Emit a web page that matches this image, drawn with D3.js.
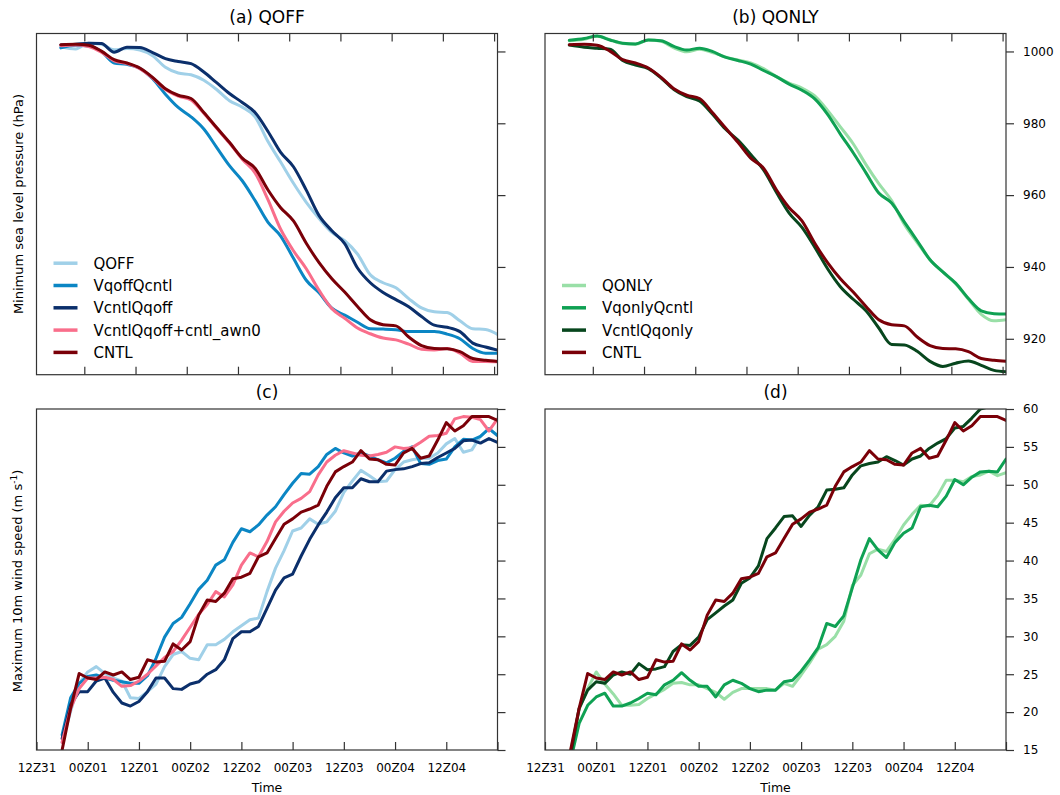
<!DOCTYPE html>
<html><head><meta charset="utf-8">
<script src="https://cdn.jsdelivr.net/npm/d3@7"></script>
<style>
body{margin:0;background:#fff;}
svg{display:block;font-family:"DejaVu Sans",sans-serif;}
</style>
</head><body>
<svg id="chart" width="1060" height="795"></svg>
<script>
// ---------- time axes (hours after 00Z01) ----------
const tickHours = [-12, 0, 12, 24, 36, 48, 60, 72, 84, 96];
const tickLabels = ["12Z31", "00Z01", "12Z01", "00Z02", "12Z02", "00Z03", "12Z03", "00Z04", "12Z04", ""];
const pressTicks = [920, 940, 960, 980, 1000];
const windTicks = [15, 20, 25, 30, 35, 40, 45, 50, 55, 60];

// pressure sample times
const tP = [-5.5, -2, 1, 4, 7, 10, 13, 16, 19, 22, 25, 28, 31, 34, 37, 40, 43, 46, 49, 52, 55, 58, 61, 64, 67, 70, 73, 76, 79, 82, 85, 88, 91, 94, 97];
// wind sample times
const tW = [-6, -4, -2, 0, 2, 4, 6, 8, 10, 12, 14, 16, 18, 20, 22, 24, 26, 28, 30, 32, 34, 36, 38, 40, 42, 44, 46, 48, 50, 52, 54, 56, 58, 60, 62, 64, 66, 68, 70, 72, 74, 76, 78, 80, 82, 84, 86, 88, 90, 92, 94, 96];

// ---------- minimum sea level pressure (hPa) ----------
const pQOFF        = [1001.3, 1000.7, 1002.3, 1002.0, 1000.5, 1000.8, 1000.4, 998.8, 995.6, 994.0, 993.5, 992.0, 989.4, 986.3, 984.5, 981.8, 975.0, 969.2, 963.3, 958.0, 953.5, 949.6, 947.3, 943.6, 937.8, 935.6, 934.2, 931.2, 928.6, 927.5, 927.3, 925.0, 922.8, 922.6, 921.1];
const pVqoffQcntl  = [1001.0, 1001.7, 1001.5, 1000.0, 996.8, 996.4, 995.3, 992.4, 988.1, 984.4, 981.8, 978.4, 973.3, 968.2, 964.0, 958.5, 952.5, 948.6, 942.4, 936.3, 932.8, 928.5, 926.6, 924.6, 922.8, 922.7, 922.5, 922.0, 922.0, 922.0, 921.3, 920.0, 917.3, 916.0, 916.0];
const pVcntlQqoff  = [1001.8, 1002.0, 1002.3, 1002.2, 999.8, 1001.2, 1001.1, 999.7, 998.0, 997.2, 996.6, 994.3, 991.3, 988.3, 985.8, 983.0, 977.8, 971.9, 967.9, 961.4, 954.3, 950.1, 946.5, 939.7, 935.6, 932.9, 930.9, 928.9, 926.2, 923.8, 923.2, 922.0, 918.8, 917.7, 916.8];
const pAwn0        = [1001.6, 1001.8, 1001.4, 999.8, 997.4, 996.6, 995.2, 992.6, 989.4, 987.6, 986.5, 982.8, 978.6, 974.5, 970.0, 966.2, 958.8, 950.5, 944.5, 939.5, 933.5, 928.4, 925.7, 923.0, 921.4, 920.2, 919.7, 918.5, 917.1, 916.9, 917.3, 916.0, 913.7, 913.7, 913.6];
const pCNTL        = [1001.9, 1002.0, 1001.7, 1000.1, 997.7, 996.8, 995.4, 992.8, 989.6, 987.8, 986.9, 983.0, 978.8, 974.7, 970.3, 967.5, 961.5, 956.5, 952.8, 946.6, 941.2, 936.7, 933.0, 929.0, 925.3, 923.9, 923.6, 920.5, 918.1, 917.3, 917.2, 916.4, 914.5, 914.0, 913.7];
const pQONLY       = [1003.0, 1003.4, 1004.2, 1003.3, 1002.2, 1002.0, 1003.2, 1002.8, 1001.0, 999.9, 1000.6, 999.7, 998.5, 997.6, 996.8, 995.2, 993.0, 991.2, 989.8, 987.6, 983.6, 979.0, 974.3, 968.5, 963.2, 958.5, 951.8, 946.8, 942.0, 938.6, 935.3, 931.0, 926.8, 925.0, 925.3];
const pVqonlyQcntl = [1003.1, 1003.6, 1004.3, 1003.2, 1002.3, 1002.1, 1003.2, 1003.0, 1001.4, 1000.4, 1000.9, 1000.0, 998.4, 997.5, 996.5, 994.7, 993.0, 990.9, 989.2, 986.8, 982.5, 977.0, 971.8, 966.2, 960.6, 957.8, 952.5, 947.3, 942.0, 938.6, 935.5, 931.2, 927.8, 927.0, 926.9];
const pVcntlQqonly = [1001.8, 1001.2, 1000.9, 1000.6, 997.5, 996.2, 995.2, 992.6, 989.4, 987.4, 986.2, 982.6, 978.5, 975.3, 971.3, 967.0, 960.8, 955.0, 951.0, 945.5, 939.5, 934.5, 931.0, 927.8, 923.0, 918.4, 918.3, 916.5, 913.7, 912.3, 913.2, 913.8, 912.6, 911.2, 910.8];

// ---------- maximum 10 m wind speed (m/s) ----------
const wQOFF        = [16.0, 20.1, 23.8, 25.3, 26.0, 25.1, 24.5, 24.1, 21.9, 21.8, 22.7, 23.7, 26.0, 27.6, 28.0, 27.1, 26.9, 28.9, 28.9, 29.6, 30.6, 31.4, 32.2, 32.4, 35.9, 39.0, 41.3, 43.9, 44.3, 45.5, 44.8, 45.1, 46.5, 49.0, 50.5, 51.9, 51.2, 50.4, 50.5, 52.0, 53.0, 53.3, 53.5, 53.5, 54.2, 55.4, 56.1, 54.3, 54.6, 56.4, 57.4, 56.5];
const wVqoffQcntl  = [17.0, 21.9, 23.8, 24.7, 24.9, 24.5, 24.2, 24.0, 23.8, 23.8, 24.8, 27.1, 29.9, 31.7, 32.5, 34.3, 36.2, 37.4, 39.4, 40.1, 42.4, 44.2, 43.8, 44.7, 46.0, 47.1, 48.7, 50.2, 51.5, 51.4, 52.4, 54.0, 54.8, 54.2, 53.8, 54.2, 53.8, 53.3, 52.9, 53.5, 54.4, 55.0, 52.8, 52.7, 53.2, 53.4, 55.0, 56.0, 55.9, 56.4, 57.4, 56.5];
const wVcntlQqoff  = [16.5, 21.0, 22.7, 22.7, 24.1, 24.5, 22.6, 21.2, 20.8, 21.4, 22.7, 24.5, 24.5, 23.1, 23.0, 23.7, 24.0, 25.0, 25.6, 26.9, 29.7, 30.6, 30.6, 31.3, 33.7, 36.1, 37.7, 38.2, 40.6, 42.8, 44.7, 46.4, 48.3, 49.6, 49.6, 50.8, 50.4, 50.4, 51.8, 52.0, 52.1, 52.4, 52.8, 52.9, 53.6, 54.2, 54.8, 55.8, 55.9, 55.5, 56.1, 55.6];
const wAwn0        = [16.0, 20.5, 23.1, 24.5, 24.5, 24.6, 24.3, 23.4, 23.5, 24.1, 25.0, 26.1, 27.2, 28.0, 29.5, 31.2, 32.9, 34.2, 35.9, 35.2, 36.8, 39.4, 41.0, 40.5, 42.5, 45.1, 46.5, 47.6, 48.2, 49.1, 51.3, 53.0, 53.9, 54.5, 54.2, 53.9, 53.8, 54.0, 54.3, 55.0, 54.8, 54.9, 55.6, 56.4, 56.5, 56.8, 58.7, 59.0, 58.9, 58.6, 57.1, 58.7];
const wCNTL        = [15.0, 20.5, 25.1, 24.5, 24.3, 25.3, 24.9, 25.3, 24.3, 24.6, 26.9, 26.6, 26.7, 29.0, 28.2, 29.3, 32.8, 34.8, 34.6, 35.7, 37.6, 37.8, 38.3, 40.5, 41.0, 42.9, 44.8, 45.5, 46.4, 46.8, 47.3, 49.8, 51.7, 52.4, 53.0, 54.5, 53.4, 53.3, 52.7, 52.6, 54.2, 54.8, 53.5, 53.8, 55.9, 58.2, 57.1, 57.8, 59.0, 59.0, 59.0, 58.5];
const wQONLY       = [14.8, 20.4, 23.1, 25.3, 23.7, 22.4, 20.9, 20.9, 21.0, 21.8, 22.4, 23.0, 23.8, 23.9, 23.6, 23.6, 23.1, 22.6, 21.7, 22.6, 23.1, 23.1, 23.1, 23.1, 22.9, 23.8, 23.4, 24.9, 26.5, 28.3, 28.9, 30.0, 32.0, 36.7, 38.1, 40.9, 41.5, 41.2, 42.8, 44.7, 46.1, 47.3, 47.2, 48.6, 50.6, 50.6, 50.4, 51.1, 51.3, 51.8, 51.2, 51.6];
const wVqonlyQcntl = [13.6, 18.5, 20.9, 22.0, 22.5, 20.8, 20.8, 21.2, 21.8, 22.5, 22.3, 23.6, 24.2, 25.2, 24.2, 23.4, 23.4, 22.0, 23.6, 24.2, 23.8, 23.1, 22.7, 22.9, 22.9, 24.0, 24.2, 25.4, 26.9, 28.5, 31.7, 31.3, 32.7, 36.4, 40.1, 42.9, 41.4, 40.4, 42.4, 43.6, 44.3, 47.1, 47.3, 47.1, 48.5, 50.7, 50.0, 51.0, 51.7, 51.8, 51.7, 53.4];
const wVcntlQqonly = [14.3, 20.5, 22.9, 24.0, 23.8, 24.9, 25.3, 25.0, 26.4, 25.6, 25.7, 26.0, 28.0, 28.9, 28.8, 29.9, 32.2, 33.1, 34.0, 34.8, 37.0, 37.7, 39.3, 42.9, 44.3, 45.8, 45.9, 44.5, 46.0, 47.1, 49.3, 49.4, 49.6, 51.3, 52.5, 52.8, 53.0, 53.7, 53.2, 52.6, 53.4, 53.8, 54.8, 55.5, 56.1, 57.5, 57.7, 58.8, 60.0, 60.3, 61.0, 61.0];

// ---------- series styles ----------
const C = {
  QOFF: "#a0d0e8", VqoffQcntl: "#0b86c4", VcntlQqoff: "#0b2f6b",
  awn0: "#f96e8b", CNTL: "#7a0008",
  QONLY: "#99dfa7", VqonlyQcntl: "#0fa153", VcntlQqonly: "#07461d"
};

const namesA = ["QOFF", "VqoffQcntl", "VcntlQqoff", "VcntlQqoff+cntl_awn0", "CNTL"];
const colorsA = [C.QOFF, C.VqoffQcntl, C.VcntlQqoff, C.awn0, C.CNTL];
const namesB = ["QONLY", "VqonlyQcntl", "VcntlQqonly", "CNTL"];
const colorsB = [C.QONLY, C.VqonlyQcntl, C.VcntlQqonly, C.CNTL];

const L = {x0: 36.5, x1: 497.5}, R = {x0: 545, x1: 1006};
const TOP = {y0: 33.5, y1: 374.7}, BOT = {y0: 409, y1: 750};

const panels = [
  {title: "(a) QOFF", h: L, v: TOP, xdom: [-11.2, 96.8], ydom: [910, 1005], t: tP,
   vals: [pQOFF, pVqoffQcntl, pVcntlQqoff, pAwn0, pCNTL], names: namesA, colors: colorsA,
   yt: pressTicks, ylab: false, xlab: false, topTicks: true, legend: true, smooth: true},
  {title: "(b) QONLY", h: R, v: TOP, xdom: [-11.2, 96.8], ydom: [910, 1005], t: tP,
   vals: [pQONLY, pVqonlyQcntl, pVcntlQqonly, pCNTL], names: namesB, colors: colorsB,
   yt: pressTicks, ylab: true, xlab: false, topTicks: true, legend: true, smooth: true},
  {title: "(c)", h: L, v: BOT, xdom: [-12, 96], ydom: [15, 60], t: tW,
   vals: [wQOFF, wVqoffQcntl, wVcntlQqoff, wAwn0, wCNTL], names: namesA, colors: colorsA,
   yt: windTicks, ylab: false, xlab: true, topTicks: false, legend: false, smooth: false},
  {title: "(d)", h: R, v: BOT, xdom: [-12, 96], ydom: [15, 60], t: tW,
   vals: [wQONLY, wVqonlyQcntl, wVcntlQqonly, wCNTL], names: namesB, colors: colorsB,
   yt: windTicks, ylab: true, xlab: true, topTicks: false, legend: false, smooth: false}
];

const svg = d3.select("#chart");
const FRAME = "#333";

panels.forEach((p, i) => {
  const x = d3.scaleLinear().domain(p.xdom).range([p.h.x0, p.h.x1]);
  const y = d3.scaleLinear().domain(p.ydom).range([p.v.y1, p.v.y0]);
  const g = svg.append("g");
  const cid = "clip" + i;
  svg.append("clipPath").attr("id", cid).append("rect")
    .attr("x", p.h.x0).attr("y", p.v.y0)
    .attr("width", p.h.x1 - p.h.x0).attr("height", p.v.y1 - p.v.y0);

  // lines
  const line = d3.line().x((d, k) => x(p.t[k])).y(d => y(d))
    .curve(p.smooth ? d3.curveMonotoneX : d3.curveLinear);
  const lg = g.append("g").attr("clip-path", `url(#${cid})`);
  p.vals.forEach((arr, k) => {
    lg.append("path").attr("d", line(arr)).attr("fill", "none")
      .attr("stroke", p.colors[k]).attr("stroke-width", 3)
      .attr("stroke-linejoin", "round").attr("stroke-linecap", "round");
  });

  // x ticks inside the frame
  const xTickVals = tickHours.filter(h => h >= p.xdom[0] - 0.01 && h <= p.xdom[1] + 0.01);
  const xb = d3.axisBottom(x).tickValues(xTickVals).tickSizeInner(-8).tickSizeOuter(0)
    .tickPadding(13)
    .tickFormat(p.xlab ? (h => tickLabels[tickHours.indexOf(h)]) : "");
  const gxb = g.append("g").attr("transform", `translate(0,${p.v.y1})`).call(xb);
  if (p.topTicks) {
    const xt = d3.axisTop(x).tickValues(xTickVals).tickSizeInner(-8).tickSizeOuter(0).tickFormat("");
    g.append("g").attr("transform", `translate(0,${p.v.y0})`).call(xt)
      .call(a => a.select(".domain").remove());
  }
  gxb.select(".domain").remove();
  gxb.selectAll("text").attr("font-size", 12).attr("fill", "#000")
    .attr("font-family", "DejaVu Sans");

  // right y axis
  const ya = d3.axisRight(y).tickValues(p.yt).tickSizeInner(8).tickSizeOuter(0).tickPadding(9)
    .tickFormat(p.ylab ? d3.format("d") : "");
  const gy = g.append("g").attr("transform", `translate(${p.h.x1},0)`).call(ya);
  gy.select(".domain").remove();
  gy.selectAll("text").attr("font-size", 12).attr("fill", "#000").attr("font-family", "DejaVu Sans");

  g.selectAll(".tick line").attr("stroke", FRAME).attr("stroke-width", 1.2);

  // frame
  g.append("rect").attr("x", p.h.x0).attr("y", p.v.y0)
    .attr("width", p.h.x1 - p.h.x0).attr("height", p.v.y1 - p.v.y0)
    .attr("fill", "none").attr("stroke", FRAME).attr("stroke-width", 1.2);

  // title
  const cx = (p.h.x0 + p.h.x1) / 2;
  svg.append("text").attr("x", cx).attr("y", p.v.y0 - 11).attr("text-anchor", "middle")
    .attr("font-size", 17).text(p.title);

  if (p.xlab) {
    svg.append("text").attr("x", cx).attr("y", 792).attr("text-anchor", "middle")
      .attr("font-size", 12.5).text("Time");
  }

  // legend
  if (p.legend) {
    const n = p.names.length;
    const rowY = [263.2, 285.5, 307.8, 330.1, 352.4];
    const start = 5 - n;
    p.names.forEach((nm, k) => {
      const yy = rowY[start + k];
      svg.append("line").attr("x1", p.h.x0 + 17).attr("x2", p.h.x0 + 41)
        .attr("y1", yy).attr("y2", yy).attr("stroke", p.colors[k]).attr("stroke-width", 3.5);
      svg.append("text").attr("x", p.h.x0 + 57).attr("y", yy + 5.5)
        .attr("font-size", 15).text(nm);
    });
  }
});

// y-axis titles
svg.append("text").attr("transform", "translate(23,204) rotate(-90)")
  .attr("text-anchor", "middle").attr("font-size", 13)
  .text("Minimum sea level pressure (hPa)");
const wt = svg.append("text").attr("transform", "translate(22,581) rotate(-90)")
  .attr("text-anchor", "middle").attr("font-size", 13);
wt.append("tspan").text("Maximum 10m wind speed (m s");
wt.append("tspan").attr("dy", -5).attr("font-size", 9).text("-1");
wt.append("tspan").attr("dy", 5).text(")");
</script>
</body></html>
